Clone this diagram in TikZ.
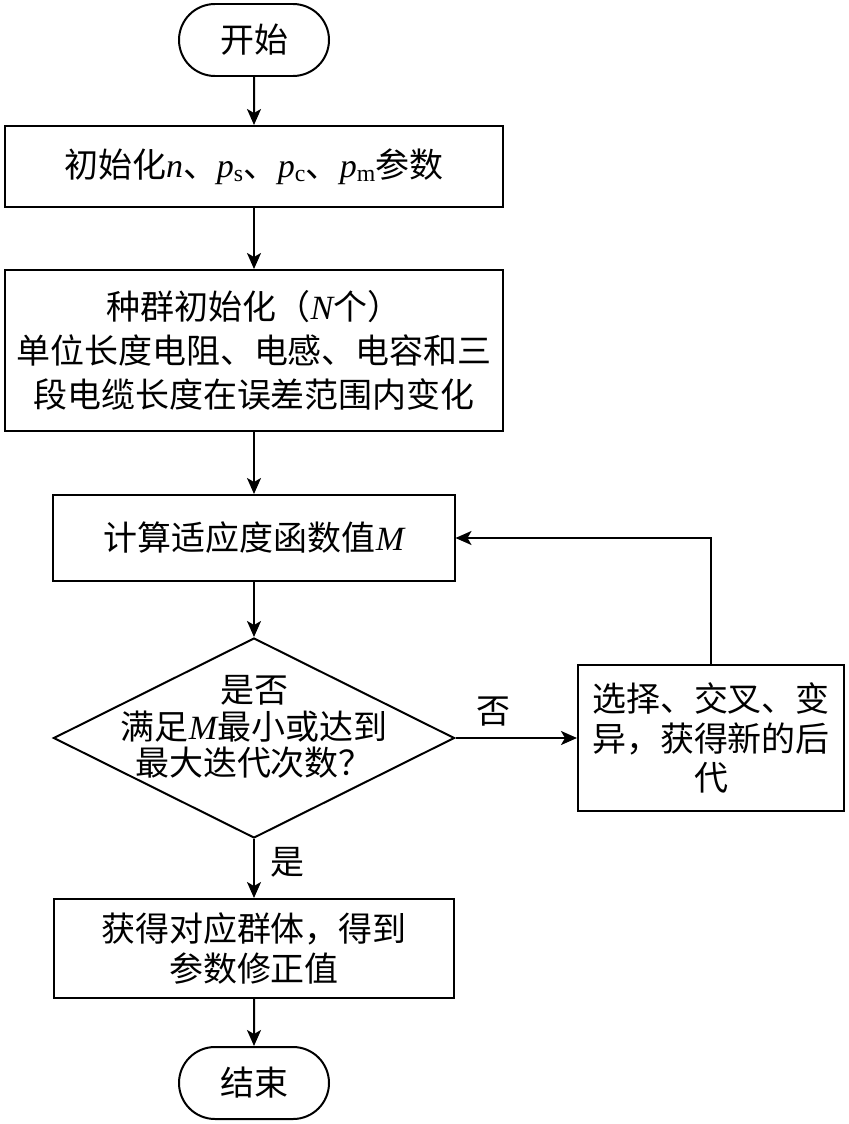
\documentclass[tikz,border=0pt]{standalone}
\usepackage{fontspec}
\setmainfont{Liberation Serif}
\newfontfamily\cjk{Noto Sans CJK SC}
\usetikzlibrary{shapes.geometric,shapes.misc,arrows.meta}
\newcommand{\lv}[1]{{\rmfamily\itshape #1}}
\newcommand{\lsub}[1]{\textsubscript{\rmfamily #1}}
\begin{document}
\begin{tikzpicture}[x=0.03cm,y=-0.03cm]
\tikzstyle{every node}=[font=\cjk\fontsize{29}{34}\selectfont]
\tikzstyle{termbox}=[draw,line width=1.7pt,rounded rectangle,minimum width=4.5cm,minimum height=2.16cm,inner sep=0pt]
\tikzstyle{stepbox}=[draw,line width=1.7pt,rectangle,align=center,inner sep=0pt]
\tikzstyle{decbox}=[draw,line width=1.7pt,diamond,minimum width=12.03cm,minimum height=6cm,inner sep=0pt]
\tikzstyle{flow}=[->,>={Stealth[length=4.8mm,width=4.2mm,inset=1.2mm]},line width=1.7pt]
\useasboundingbox (0,0) rectangle (849,1124);
\node[termbox] (start) at (254,40) {开始};
\node[stepbox,minimum width=14.94cm,minimum height=2.43cm] (params) at (254,166.5) {初始化\lv{n}、\lv{p}\lsub{s}、\lv{p}\lsub{c}、\lv{p}\lsub{m}参数};
\node[stepbox,minimum width=14.94cm,minimum height=4.83cm,font=\cjk\fontsize{29}{37.5}\selectfont] (popinit) at (254,350.5) {种群初始化（\lv{N}个）\\单位长度电阻、电感、电容和三\\段电缆长度在误差范围内变化};
\node[stepbox,minimum width=12.03cm,minimum height=2.58cm] (fitness) at (254,538) {计算适应度函数值\lv{M}};
\node[decbox] (check) at (254,738) {};
\node[align=center,font=\cjk\fontsize{29}{31}\selectfont] (checktext) at (254,727) {是否\\满足\lv{M}最小或达到\\最大迭代次数？};
\node[stepbox,minimum width=7.98cm,minimum height=4.38cm] (evolve) at (711,738) {选择、交叉、变\\异，获得新的后\\代};
\node[stepbox,minimum width=12cm,minimum height=2.97cm] (result) at (254,948.5) {获得对应群体，得到\\参数修正值};
\node[termbox] (stop) at (254,1083) {结束};
\node (nolabel) at (493,712) {否};
\node (yeslabel) at (287,862) {是};
\draw[flow] (start) -- (params);
\draw[flow] (params) -- (popinit);
\draw[flow] (popinit) -- (fitness);
\draw[flow] (fitness) -- (check);
\draw[flow] (check) -- (evolve);
% back to the fitness step
\draw[flow] (evolve.north) |- (fitness.east);
\draw[flow] (check) -- (result);
\draw[flow] (result) -- (stop);
\end{tikzpicture}
\end{document}
